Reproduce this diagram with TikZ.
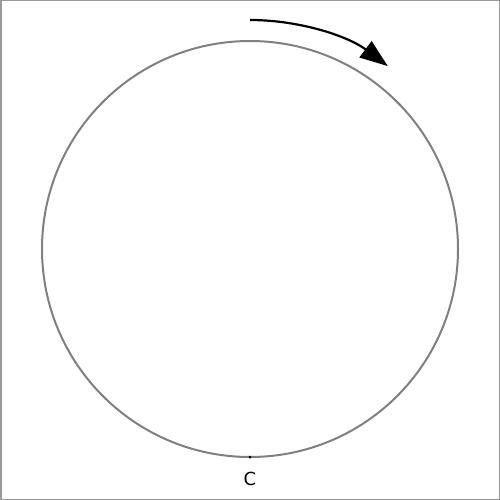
\documentclass[tikz,border=0pt]{standalone}
\usepackage{fontspec}
\setmainfont{DejaVu Sans}
\usetikzlibrary{arrows.meta}
\begin{document}
\begin{tikzpicture}[x=1pt,y=-1pt,
  ring/.style={draw=black!50,line width=2pt},
  turn/.style={draw=black,line width=2.2pt,-{Triangle[length=28pt,width=20pt]}},
  lbl/.style={font=\fontsize{18}{20}\selectfont,inner sep=0pt}]
\useasboundingbox (0,0) rectangle (500,500);
\draw[black!40,line width=1.5pt] (0.75,0.75) rectangle (499.25,499.25);
\coordinate (O) at (250,249);
\draw[ring] (O) circle[radius=208];
\coordinate (A) at (250,20);
\draw[turn] (A) arc[start angle=-90,end angle=-53,radius=229];
\coordinate (C) at (250,457);
\fill (C) circle[radius=1.5];
\node[lbl] (Cl) at (250,479) {C};
\end{tikzpicture}
\end{document}
